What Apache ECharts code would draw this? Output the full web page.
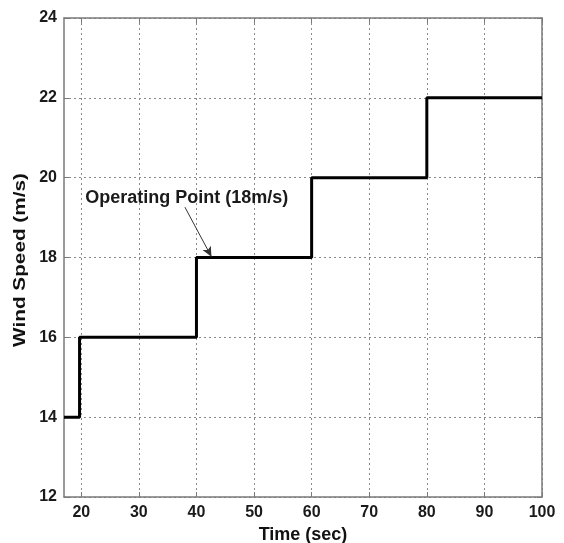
<!DOCTYPE html>
<html>
<head>
<meta charset="utf-8">
<script src="https://cdn.jsdelivr.net/npm/echarts@6/dist/echarts.min.js"></script>
<style>
  html, body { margin: 0; padding: 0; background: #fff; }
  #chart { width: 564px; height: 543px; }
</style>
</head>
<body>
<div id="chart"></div>
<script>
const chart = echarts.init(document.getElementById("chart"));

// step changes of wind speed
const stepTimes = [17, 19.7, 40, 60, 80, 100];
const stepSpeeds = [14, 16, 18, 20, 22, 22];

const xTicks = [20, 30, 40, 50, 60, 70, 80, 90, 100];
const yName = "Wind Speed (m/s)";
const noteText = "Operating Point (18m/s)";
const noteAt = [20.6, 19.5];
const arrowFrom = [38.0, 19.26];
const arrowTo = [42.6, 18.02];

const FONT = "Liberation Sans";
const GRID_LINE = { show: true, lineStyle: { color: "#8a8a8a", type: [2, 3], width: 1 } };
const BOX = { show: true, lineStyle: { color: "#7a7a7a", width: 1.5 } };

chart.setOption({
  animation: false,
  grid: { left: 64, right: 22, top: 18, bottom: 46, outerBoundsMode: "none" },
  // y axis title, stretched along its length like the source image
  graphic: [
    {
      type: "text",
      x: 20,
      y: 260,
      rotation: Math.PI / 2,
      scaleX: 1.22,
      style: {
        text: yName,
        font: "bold 17px 'Liberation Sans'",
        fill: "#111",
        align: "center",
        verticalAlign: "middle"
      }
    }
  ],
  xAxis: [
    {
      type: "value",
      min: 17,
      max: 100,
      name: "Time (sec)",
      nameLocation: "middle",
      nameGap: 25,
      nameTextStyle: { fontFamily: FONT, fontWeight: "bold", fontSize: 18, color: "#111" },
      axisLine: BOX,
      axisTick: { show: true, inside: true, length: 5, customValues: xTicks, lineStyle: { color: "#7a7a7a" } },
      axisLabel: { customValues: xTicks, fontFamily: FONT, fontWeight: "bold", fontSize: 16, color: "#1a1a1a", margin: 8 },
      splitLine: GRID_LINE
    },
    {
      type: "value",
      position: "top",
      min: 17,
      max: 100,
      axisLine: BOX,
      axisTick: { show: true, inside: true, length: 5, customValues: xTicks, lineStyle: { color: "#7a7a7a" } },
      axisLabel: { show: false },
      splitLine: { show: false }
    }
  ],
  yAxis: [
    {
      type: "value",
      min: 12,
      max: 24,
      interval: 2,
      axisLine: BOX,
      axisTick: { show: true, inside: true, length: 5, lineStyle: { color: "#7a7a7a" } },
      axisLabel: { fontFamily: FONT, fontWeight: "bold", fontSize: 16, color: "#1a1a1a", margin: 7 },
      splitLine: GRID_LINE
    },
    {
      type: "value",
      position: "right",
      min: 12,
      max: 24,
      interval: 2,
      axisLine: BOX,
      axisTick: { show: true, inside: true, length: 5, lineStyle: { color: "#7a7a7a" } },
      axisLabel: { show: false },
      splitLine: { show: false }
    }
  ],
  series: [
    {
      type: "line",
      step: "end",
      data: stepTimes.map((t, i) => [t, stepSpeeds[i]]),
      symbol: "none",
      lineStyle: { color: "#000", width: 3 },
      markLine: {
        silent: true,
        symbol: ["none", "arrow"],
        symbolSize: [7, 10],
        lineStyle: { color: "#333", width: 1, type: "solid" },
        label: { show: false },
        data: [[{ coord: arrowFrom }, { coord: arrowTo }]]
      },
      markPoint: {
        silent: true,
        symbol: "circle",
        symbolSize: 1,
        itemStyle: { color: "transparent" },
        label: {
          show: true,
          position: "right",
          distance: 0,
          formatter: noteText,
          fontFamily: FONT,
          fontWeight: "bold",
          fontSize: 18,
          color: "#1a1a1a"
        },
        data: [{ coord: noteAt }]
      }
    }
  ]
});
</script>
</body>
</html>
